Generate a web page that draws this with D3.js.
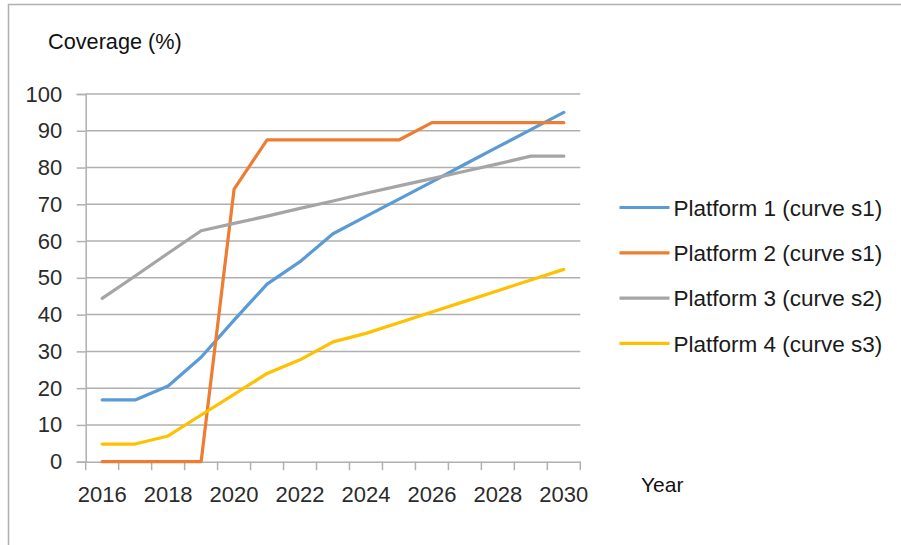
<!DOCTYPE html>
<html>
<head>
<meta charset="utf-8">
<script src="https://cdn.jsdelivr.net/npm/d3@7"></script>
<style>
  html, body { margin: 0; padding: 0; background: #fff; }
  svg { display: block; }
  text { font-family: "Liberation Sans", Arial, sans-serif; }
</style>
</head>
<body>
<svg id="chart" width="901" height="545"></svg>
<script>
const years = ["2016","2017","2018","2019","2020","2021","2022","2023","2024","2025","2026","2027","2028","2029","2030"];
const labeledYears = ["2016","2018","2020","2022","2024","2026","2028","2030"];
const yTicks = [0,10,20,30,40,50,60,70,80,90,100];
const seriesNames = ["Platform 1 (curve s1)","Platform 2 (curve s1)","Platform 3 (curve s2)","Platform 4 (curve s3)"];
const seriesColors = ["#5b9bd5","#ed7d31","#a5a5a5","#ffc000"];
const platform1 = [16.8,16.8,20.6,28.4,38.5,48.3,54.4,62.0,66.7,71.4,76.1,80.9,85.6,90.3,95.0];
const platform2 = [0,0,0,0,74.1,87.5,87.5,87.5,87.5,87.5,92.2,92.2,92.2,92.2,92.2];
const platform3 = [44.4,50.5,56.7,62.8,64.8,66.8,68.9,70.9,73.0,75.0,77.0,79.0,81.0,83.1,83.1];
const platform4 = [4.8,4.8,7.0,12.7,18.3,24.0,27.7,32.6,34.9,37.8,40.7,43.6,46.5,49.4,52.3];
const seriesValues = [platform1, platform2, platform3, platform4];

const svg = d3.select("#chart");

// outer chart border (top and left visible)
svg.append("rect")
  .attr("x", 8.5).attr("y", 4.5)
  .attr("width", 1000).attr("height", 700)
  .attr("fill", "none").attr("stroke", "#b0b0b0").attr("stroke-width", 1.5);

const x0 = 85.7, x1 = 580.3, yBottom = 461.7, yTop = 94;
const x = d3.scaleBand().domain(years).range([x0, x1]).padding(0);
const y = d3.scaleLinear().domain([0, 100]).range([yBottom, yTop]);
const cx = d => x(d) + x.bandwidth() / 2;

const gridColor = "#b0b0b0";
const labelColor = "#2b2b2b";

// gridlines
svg.append("g").selectAll("line").data(yTicks.filter(v => v > 0)).join("line")
  .attr("x1", x0).attr("x2", x1)
  .attr("y1", d => y(d)).attr("y2", d => y(d))
  .attr("stroke", gridColor).attr("stroke-width", 1.5);

// y axis
const yAxis = svg.append("g").attr("transform", `translate(${x0},0)`)
  .call(d3.axisLeft(y).tickValues(yTicks).tickSize(9).tickPadding(14.5));
yAxis.select(".domain").attr("stroke", gridColor).attr("stroke-width", 1.5);
yAxis.selectAll(".tick line").attr("stroke", gridColor).attr("stroke-width", 1.5);
yAxis.selectAll(".tick text")
  .attr("font-size", 22).attr("fill", labelColor)
  .style("font-family", "'Liberation Sans', Arial, sans-serif");

// x axis
const xAxis = svg.append("g").attr("transform", `translate(0,${yBottom})`)
  .call(d3.axisBottom(x).tickValues(labeledYears).tickSize(0).tickPadding(24.7));
xAxis.select(".domain").attr("stroke", gridColor).attr("stroke-width", 1.5);
xAxis.selectAll(".tick text")
  .attr("font-size", 22).attr("fill", labelColor)
  .style("font-family", "'Liberation Sans', Arial, sans-serif");

// x tick marks at category boundaries
const edges = years.map(d => x(d)).concat([x(years[years.length - 1]) + x.bandwidth()]);
svg.append("g").selectAll("line").data(edges).join("line")
  .attr("x1", d => d).attr("x2", d => d)
  .attr("y1", yBottom).attr("y2", yBottom + 8.5)
  .attr("stroke", gridColor).attr("stroke-width", 1.5);

// lines
const line = d3.line().x((d, i) => cx(years[i])).y(d => y(d));
svg.append("g").selectAll("path").data(seriesValues).join("path")
  .attr("d", d => line(d))
  .attr("fill", "none")
  .attr("stroke", (d, i) => seriesColors[i])
  .attr("stroke-width", 3.2)
  .attr("stroke-linejoin", "round")
  .attr("stroke-linecap", "round");

// axis titles
svg.append("text").attr("x", 48).attr("y", 49)
  .attr("font-size", 21.7).attr("fill", "#111")
  .text("Coverage (%)");
svg.append("text").attr("x", 641).attr("y", 491.5)
  .attr("font-size", 21).attr("fill", "#111")
  .text("Year");

// legend
const legendRows = [207.5, 252.8, 298.1, 343.4];
const lg = svg.append("g").selectAll("g").data(seriesNames).join("g")
  .attr("transform", (d, i) => `translate(0,${legendRows[i]})`);
lg.append("line").attr("x1", 619.5).attr("x2", 669.5).attr("y1", 0).attr("y2", 0)
  .attr("stroke", (d, i) => seriesColors[i]).attr("stroke-width", 3.2);
lg.append("text").attr("x", 673.5).attr("y", 0).attr("dy", "0.36em")
  .attr("font-size", 22.5).attr("fill", "#1a1a1a")
  .text(d => d);
</script>
</body>
</html>
